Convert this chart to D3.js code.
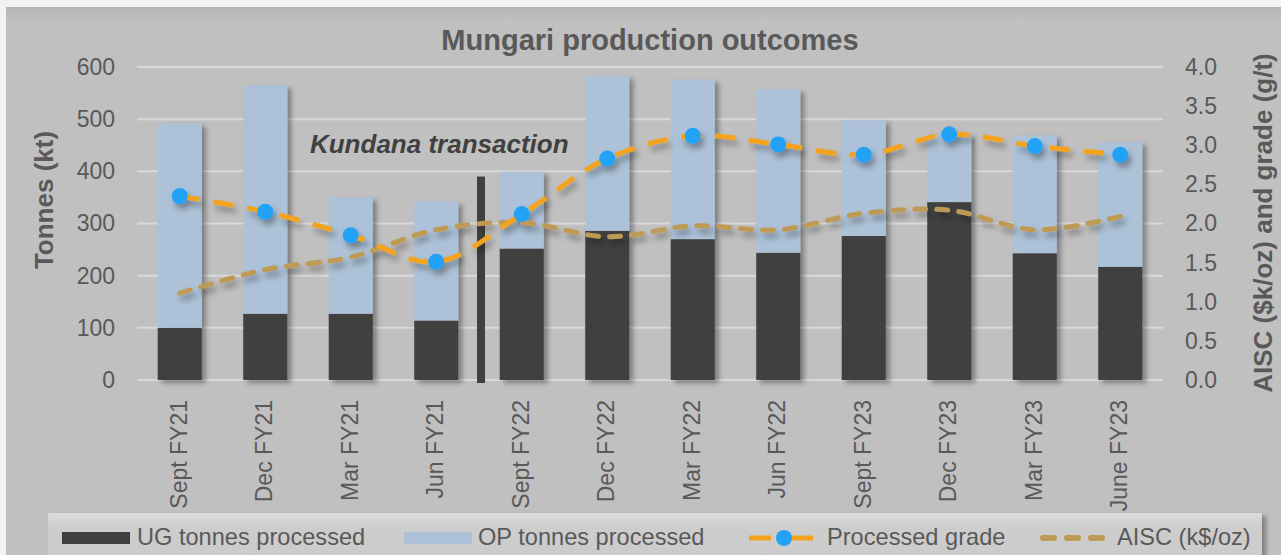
<!DOCTYPE html>
<html><head><meta charset="utf-8">
<script src="https://cdn.jsdelivr.net/npm/d3@7"></script>
<style>
body{margin:0;background:#f2f2f2}
svg{display:block}
text{font-family:"Liberation Sans",Arial,Helvetica,sans-serif}
</style></head>
<body><svg id="c" width="1281" height="555"></svg>
<script>
const categories = ["Sept FY21","Dec FY21","Mar FY21","Jun FY21","Sept FY22","Dec FY22","Mar FY22","Jun FY22","Sept FY23","Dec FY23","Mar FY23","June FY23"];
const ugTonnes = [100, 127, 127, 114, 252, 286, 270, 244, 276, 341, 243, 217];
const opTonnes = [392, 438, 223, 228, 147, 297, 306, 313, 222, 130, 226, 239];
const processedGrade = [2.35, 2.15, 1.85, 1.51, 2.12, 2.83, 3.12, 3.01, 2.88, 3.14, 2.99, 2.88];
const aiscValues = [1.11, 1.41, 1.57, 1.92, 2.01, 1.83, 1.97, 1.92, 2.13, 2.17, 1.92, 2.09];
const leftTicks = [0, 100, 200, 300, 400, 500, 600];
const rightTicks = [0, 0.5, 1, 1.5, 2, 2.5, 3, 3.5, 4];
const dividerAfter = ["Jun FY21"];
const dividerValue = [390];
const annotation = ["Kundana transaction"];
const legendLabels = ["UG tonnes processed", "OP tonnes processed", "Processed grade", "AISC (k$/oz)"];
const titleText = "Mungari production outcomes";
const leftTitle = "Tonnes (kt)";
const rightTitle = "AISC ($k/oz) and grade (g/t)";

const svg = d3.select("#c");
const W = 1281, H = 555;
const L = 137, R = 1163, T = 67, B = 380;
const C = {bg:"#c0c0c0", ug:"#404040", op:"#adc2d8", grade:"#f5a31f", marker:"#22a2f7", aisc:"#bf9a55", grid:"#d9d9d9", text:"#595959"};

const defs = svg.append("defs");
const f1 = defs.append("filter").attr("id","barsh").attr("x","-20%").attr("y","-10%").attr("width","150%").attr("height","130%");
f1.append("feDropShadow").attr("dx",4).attr("dy",3).attr("stdDeviation",2.5).attr("flood-color","#000").attr("flood-opacity",0.35);
const f2 = defs.append("filter").attr("id","linesh").attr("x","-10%").attr("y","-30%").attr("width","120%").attr("height","180%");
f2.append("feDropShadow").attr("dx",3).attr("dy",5).attr("stdDeviation",3).attr("flood-color","#000").attr("flood-opacity",0.35);
const g1 = defs.append("linearGradient").attr("id","bgG").attr("x1",0).attr("y1",0).attr("x2",0).attr("y2",1);
g1.append("stop").attr("offset",0).attr("stop-color","#b4b4b4");
g1.append("stop").attr("offset",0.025).attr("stop-color",C.bg);
g1.append("stop").attr("offset",1).attr("stop-color",C.bg);
const g2 = defs.append("linearGradient").attr("id","lgG").attr("x1",0).attr("y1",0).attr("x2",0).attr("y2",1);
g2.append("stop").attr("offset",0).attr("stop-color","#dcdcdc");
g2.append("stop").attr("offset",0.3).attr("stop-color","#cdcdcd");
g2.append("stop").attr("offset",1).attr("stop-color","#cbcbcb");

svg.append("rect").attr("width",W).attr("height",H).attr("fill","#f2f2f2");
svg.append("rect").attr("x",6).attr("y",7).attr("width",W-6).attr("height",H-7).attr("fill","url(#bgG)");

const x = d3.scaleBand().domain(categories).range([L,R]).paddingInner(0.485).paddingOuter(0.2425);
const yL = d3.scaleLinear().domain([0,600]).range([B,T]);
const yR = d3.scaleLinear().domain([0,4]).range([B,T]);

// grid
svg.append("g").selectAll("line").data(leftTicks).join("line")
  .attr("x1",L).attr("x2",R).attr("y1",d=>yL(d)).attr("y2",d=>yL(d))
  .attr("stroke",C.grid).attr("stroke-width",2);

// left axis ticks
const axL = svg.append("g").attr("transform",`translate(${L},0)`)
  .call(d3.axisLeft(yL).tickValues(leftTicks).tickSize(0).tickPadding(22));
axL.select(".domain").remove();
axL.selectAll("text").attr("fill",C.text).style("font-size","23px").style("font-family",'"Liberation Sans",Arial,sans-serif');

const axR = svg.append("g").attr("transform",`translate(${R},0)`)
  .call(d3.axisRight(yR).tickValues(rightTicks).tickFormat(d3.format(".1f")).tickSize(0).tickPadding(22));
axR.select(".domain").remove();
axR.selectAll("text").attr("fill",C.text).style("font-size","23px").style("font-family",'"Liberation Sans",Arial,sans-serif');

// bars
const bars = svg.append("g").attr("filter","url(#barsh)");
bars.selectAll("rect.ug").data(categories).join("rect").attr("class","ug")
  .attr("x",d=>x(d)).attr("width",x.bandwidth())
  .attr("y",(d,i)=>yL(ugTonnes[i])).attr("height",(d,i)=>yL(0)-yL(ugTonnes[i]))
  .attr("fill",C.ug);
bars.selectAll("rect.op").data(categories).join("rect").attr("class","op")
  .attr("x",d=>x(d)).attr("width",x.bandwidth())
  .attr("y",(d,i)=>yL(ugTonnes[i]+opTonnes[i])).attr("height",(d,i)=>yL(ugTonnes[i])-yL(ugTonnes[i]+opTonnes[i]))
  .attr("fill",C.op);

// divider
const di = categories.indexOf(dividerAfter[0]);
const dx = (x(categories[di]) + x.bandwidth() + x(categories[di+1]))/2 + 2;
svg.append("rect").attr("x",dx-4).attr("width",8)
  .attr("y",yL(dividerValue[0])).attr("height",yL(0)-yL(dividerValue[0])+3)
  .attr("fill","#404040");

svg.append("text").attr("x",x(categories[di])+x.bandwidth()/2+3).attr("y",yL(435))
  .attr("text-anchor","middle").attr("fill","#404040")
  .style("font-size","26px").style("font-weight","bold").style("font-style","italic")
  .text(annotation[0]);

// lines
const cx = d=>x(d)+x.bandwidth()/2;
const lineA = d3.line().x((d,i)=>cx(categories[i])).y(d=>yR(d)).curve(d3.curveCatmullRom.alpha(0.5));
const lg = svg.append("g").attr("filter","url(#linesh)");
lg.append("path").datum(aiscValues).attr("d",lineA).attr("fill","none")
  .attr("stroke",C.aisc).attr("stroke-width",5).attr("stroke-dasharray","11,11").attr("stroke-linecap","round");
lg.append("path").datum(processedGrade).attr("d",lineA).attr("fill","none")
  .attr("stroke",C.grade).attr("stroke-width",5).attr("stroke-dasharray","20,14");
lg.selectAll("circle").data(processedGrade).join("circle")
  .attr("cx",(d,i)=>cx(categories[i])).attr("cy",d=>yR(d)).attr("r",8).attr("fill",C.marker);

// category labels
svg.append("g").selectAll("text").data(categories).join("text")
  .attr("transform",d=>`translate(${cx(d)+7},400) rotate(-90)`)
  .attr("text-anchor","end").attr("fill",C.text).style("font-size","23px").text(d=>d);

// titles
svg.append("text").attr("x",650).attr("y",50).attr("text-anchor","middle").attr("fill",C.text)
  .style("font-size","29px").style("font-weight","bold").text(titleText);
svg.append("text").attr("transform","translate(53,200) rotate(-90)").attr("text-anchor","middle").attr("fill",C.text)
  .style("font-size","26px").style("font-weight","bold").text(leftTitle);
svg.append("text").attr("transform","translate(1272,223) rotate(-90)").attr("text-anchor","middle").attr("fill",C.text)
  .style("font-size","26px").style("font-weight","bold").text(rightTitle);

// legend
const lgBox = svg.append("g");
lgBox.append("rect").attr("x",48).attr("y",513).attr("width",1214).attr("height",50)
  .attr("fill","url(#lgG)").attr("filter","url(#barsh)");
const ly = 538;
lgBox.append("rect").attr("x",62).attr("y",ly-6).attr("width",68).attr("height",12).attr("fill",C.ug);
lgBox.append("rect").attr("x",404).attr("y",ly-6).attr("width",68).attr("height",12).attr("fill",C.op);
lgBox.append("line").attr("x1",749).attr("x2",813).attr("y1",ly).attr("y2",ly)
  .attr("stroke",C.grade).attr("stroke-width",5).attr("stroke-dasharray","22,20");
lgBox.append("circle").attr("cx",784).attr("cy",ly).attr("r",8).attr("fill",C.marker);
lgBox.append("line").attr("x1",1043).attr("x2",1103).attr("y1",ly).attr("y2",ly)
  .attr("stroke",C.aisc).attr("stroke-width",6).attr("stroke-dasharray","11,13").attr("stroke-linecap","round");
const lx = [137, 478, 827, 1117];
lgBox.selectAll("text").data(legendLabels).join("text")
  .attr("x",(d,i)=>lx[i]).attr("y",545).attr("fill",C.text).style("font-size","23.6px").text(d=>d);
</script></body></html>
